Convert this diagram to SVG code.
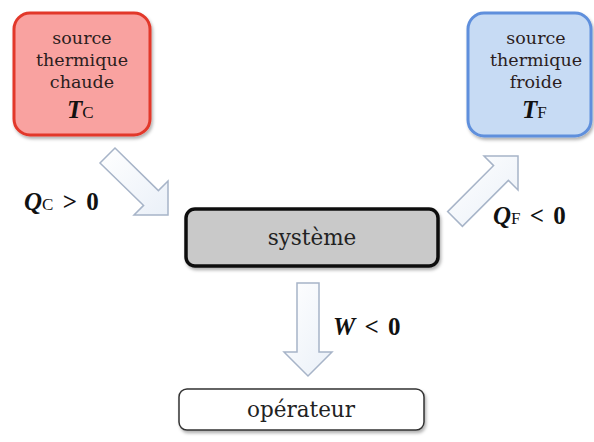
<svg xmlns="http://www.w3.org/2000/svg" width="594" height="442" viewBox="0 0 594 442">
<defs>
<filter id="sh" x="-10%" y="-10%" width="130%" height="130%">
<feDropShadow dx="1.5" dy="2.5" stdDeviation="1.5" flood-color="#000" flood-opacity="0.3"/>
</filter>
<linearGradient id="ag" x1="0" y1="0" x2="1" y2="1">
<stop offset="0" stop-color="#ffffff"/>
<stop offset="1" stop-color="#eaf0f8"/>
</linearGradient>
</defs>
<style>
.src{font-family:"DejaVu Serif","Liberation Serif",serif;font-size:17.5px;text-anchor:middle;fill:#2b1d1d}
.big{font-family:"DejaVu Serif","Liberation Serif",serif;font-size:21.5px;text-anchor:middle;fill:#222}
.lbl{font-family:"Liberation Serif","Times New Roman",serif;font-size:25px;font-weight:bold;fill:#111;word-spacing:3px}
.sub{font-size:17px;font-weight:normal;font-style:normal}
.it{font-style:italic}
.arrow{fill:url(#ag);stroke:#a7b4c8;stroke-width:1.5;stroke-linejoin:miter}
</style>
<rect width="594" height="442" fill="#ffffff"/>
<g id="connectors">
<polygon class="arrow" points="115,148 158.4,190.6 168,181 168,215 134,215 143.6,205.4 100,163"/>
<polygon class="arrow" points="447.6,211.6 493.6,165.6 484,156 518,156 518,190 508.4,180.4 462.4,226.4"/>
<polygon class="arrow" points="297,283 319,283 319,352 332,352 308,376 284,352 297,352"/>
</g>
<g id="hot">
<rect x="14" y="13" width="136" height="122" rx="16" fill="#f9a2a0" stroke="#e2372b" stroke-width="3" filter="url(#sh)"/>
<text class="src" x="82" y="44">source</text>
<text class="src" x="82" y="66">thermique</text>
<text class="src" x="82" y="88">chaude</text>
<text class="lbl" x="67" y="118" font-size="28"><tspan class="it">T</tspan><tspan class="sub" font-size="18">C</tspan></text>
</g>
<g id="cold">
<rect x="468" y="13" width="123" height="123" rx="16" fill="#c7dbf4" stroke="#5e8fdc" stroke-width="3" filter="url(#sh)"/>
<text class="src" x="536" y="44">source</text>
<text class="src" x="536" y="66">thermique</text>
<text class="src" x="536" y="88">froide</text>
<text class="lbl" x="522" y="118" font-size="28"><tspan class="it">T</tspan><tspan class="sub" font-size="18">F</tspan></text>
</g>
<g id="systeme">
<rect x="186" y="209" width="252" height="57" rx="9" fill="#c9c9c9" stroke="#111" stroke-width="3.5" filter="url(#sh)"/>
<text class="big" x="312" y="245">système</text>
</g>
<g id="operateur">
<rect x="179" y="389" width="245" height="41" rx="8" fill="#ffffff" stroke="#333" stroke-width="1.5" filter="url(#sh)"/>
<text class="big" x="301" y="417">opérateur</text>
</g>
<g id="labels">
<text class="lbl" x="24" y="210"><tspan class="it">Q</tspan><tspan class="sub">C</tspan> &gt; 0</text>
<text class="lbl" x="493" y="224"><tspan class="it">Q</tspan><tspan class="sub">F</tspan> &lt; 0</text>
<text class="lbl" x="333" y="335"><tspan class="it">W</tspan> &lt; 0</text>
</g>
</svg>
